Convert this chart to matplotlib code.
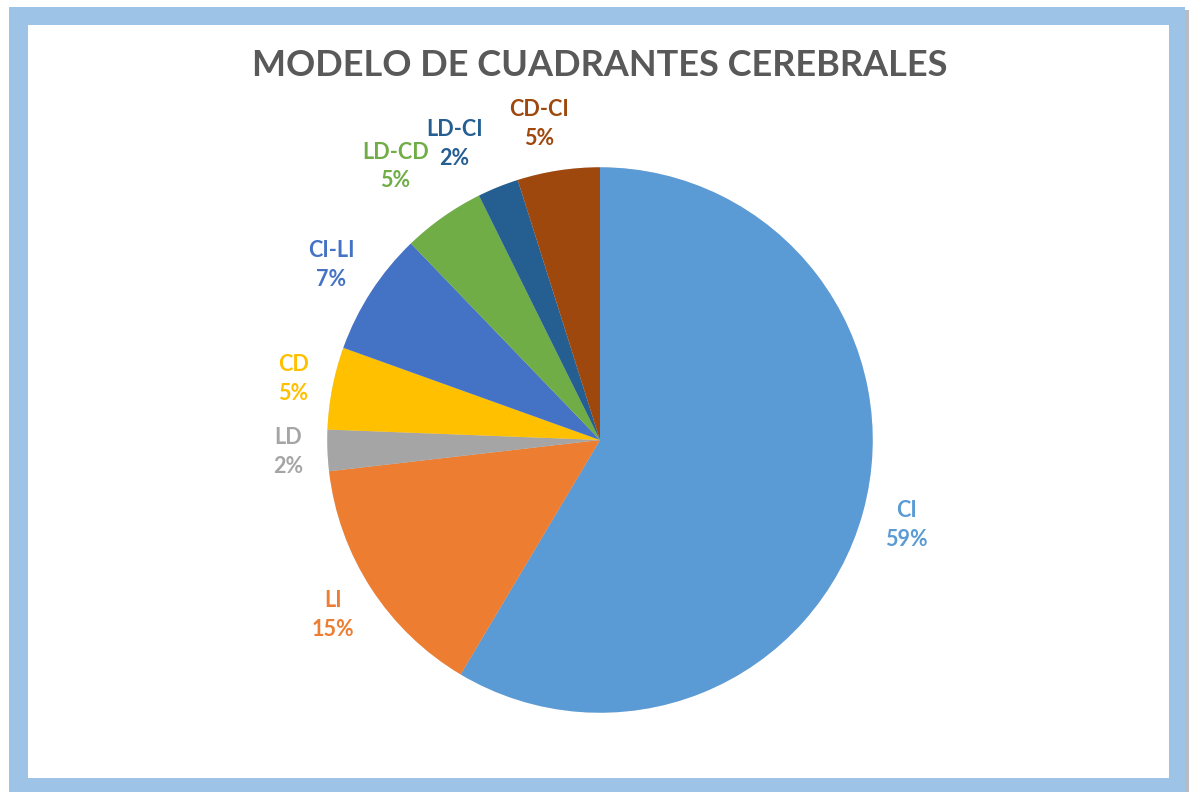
import matplotlib.pyplot as plt
import matplotlib.patheffects as pe
from matplotlib.patches import Rectangle
import numpy as np

# Data (counts per quadrant profile, 41 people)
labels = ['CI', 'LI', 'LD', 'CD', 'CI-LI', 'LD-CD', 'LD-CI', 'CD-CI']
counts = [24, 6, 1, 2, 3, 2, 1, 2]
colors = ['#5B9BD5', '#ED7D31', '#A5A5A5', '#FFC000',
          '#4472C4', '#70AD47', '#255E91', '#9E480E']
title = 'MODELO DE CUADRANTES CEREBRALES'

W, H = 1189, 792
fig = plt.figure(figsize=(W / 100, H / 100), dpi=100)
fig.patch.set_facecolor('white')

# frame like the Excel chart border
fig.patches.append(Rectangle((1185 / W, 0), 4 / W, 1 - 10 / H, transform=fig.transFigure,
                             facecolor='#B8BCC2', edgecolor='none', zorder=-3))
fig.patches.append(Rectangle((9 / W, 0), 1176 / W, 1 - 7 / H, transform=fig.transFigure,
                             facecolor='#9DC3E6', edgecolor='none', zorder=-2))
fig.patches.append(Rectangle((28 / W, 14 / H), 1141 / W, 753 / H, transform=fig.transFigure,
                             facecolor='white', edgecolor='none', zorder=-1))

fig.text(600 / W, 1 - 66 / H, title, ha='center', va='center',
         fontsize=26, fontweight='bold', color='#595959', family='Lato')

# pie axes: centre (600, 440) px, radius ~273 px
cx, cy, half = 600, 440, 300
ax = fig.add_axes([(cx - half) / W, (H - cy - half) / H, 2 * half / W, 2 * half / H])
ax.set_zorder(2)

wedges, _ = ax.pie(counts, colors=colors, startangle=90, counterclock=False,
                   radius=1.0, wedgeprops=dict(linewidth=0))
for w in wedges:
    w.set_path_effects([pe.SimplePatchShadow(offset=(0, 0), shadow_rgbFace='black', alpha=0.12),
                        pe.Normal()])
ax.set_xlim(-1.1, 1.1)
ax.set_ylim(-1.1, 1.1)
ax.set_aspect('equal')
ax.axis('off')

# "outside end" labels: box edge sits a small gap outside the rim
renderer = fig.canvas.get_renderer()
total = sum(counts)
# crowded labels get spread: (extra degrees, extra px outward)
spread = {'LD-CD': (1, 17), 'LD-CI': (4, 8), 'CD-CI': (2, 0)}
gap = 24  # px
centre = ax.transData.transform((0, 0))
rim = ax.transData.transform((1, 0))[0] - centre[0]
for w, lab, c, col in zip(wedges, labels, counts, colors):
    dang, dgap = spread.get(lab, (0, 0))
    ang = np.deg2rad((w.theta1 + w.theta2) / 2 + dang)
    ux, uy = np.cos(ang), np.sin(ang)
    pct = int(round(c / total * 100))
    t = ax.text(0, 0, f'{lab}\n{pct}%', ha='center', va='center', color=col,
                fontsize=15.5, fontweight='bold', family='Lato', linespacing=1.45,
                clip_on=False)
    bb = t.get_window_extent(renderer)
    dist = rim + gap + dgap
    px = centre[0] + dist * ux + bb.width / 2 * ux
    py = centre[1] + dist * uy + bb.height / 2 * uy
    t.set_position(ax.transData.inverted().transform((px, py)))

fig.savefig('out.png', dpi=100)
